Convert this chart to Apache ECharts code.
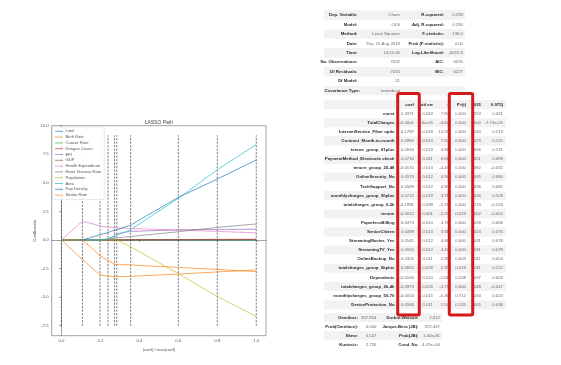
<!DOCTYPE html>
<html><head><meta charset="utf-8">
<script src="https://cdn.jsdelivr.net/npm/echarts@6/dist/echarts.min.js"></script>
<style>html,body{margin:0;padding:0;background:#fff}#c{width:561px;height:365px}</style>
</head><body><div id="c"></div>
<script>
// ---------- LASSO path data ----------
const breakpoints = [0, 0.108, 0.198, 0.239, 0.272, 0.284, 0.355, 0.6, 0.8, 1.0];
const seriesNames = ['Limit','Birth Rate','Cancer Rate','Dengue Cases','EFI','GDP','Health Expenditure','Heart Disease Rate','Population','Area','Pop Density','Stroke Rate'];
const limitVals      = [0, 0, 0, 0, 0, 0, 0, 0, 0, 0];
const birthRate      = [0, -1.72, -3.06, -3.18, -3.22, -3.22, -3.18, -2.99, -2.80, -2.62];
const cancerRate     = [0, 0, 0, 0, 0, 0, 0, 0, 0, 0];
const dengueCases    = [0, 0, 0, 0, 0, 0, 0.01, 0.02, 0.03, 0.04];
const efi            = [0, 0, 0, 0, 0.40, 0.55, 0.75, 0.88, 0.92, 0.94];
const gdp            = [0, 0, 0, 0, 0, 0.01, 0.02, 0.04, 0.05, 0.06];
const healthExp      = [0, 1.66, 1.22, 1.12, 1.07, 1.05, 1.00, 0.87, 0.75, 0.62];
const heartDisease   = [0, 0, 0, 0.08, 0.15, 0.18, 0.30, 0.72, 1.10, 1.40];
const population     = [0, 0, 0, 0, 0, 0, -0.60, -2.95, -4.95, -6.70];
const area           = [0, 0, 0, 0.10, 0.30, 0.40, 0.90, 3.64, 6.15, 8.35];
const popDensity     = [0, 0, 0.45, 0.65, 0.85, 0.90, 1.30, 3.73, 5.33, 7.00];
const strokeRate     = [0, 0, -1.37, -1.80, -2.10, -2.15, -2.19, -2.40, -2.58, -2.77];
const seriesValues = [limitVals, birthRate, cancerRate, dengueCases, efi, gdp, healthExp, heartDisease, population, area, popDensity, strokeRate];
const seriesColors = ['#1f77b4','#ff7f0e','#2ca02c','#d62728','#9467bd','#8c564b','#e377c2','#7f7f7f','#bcbd22','#17becf','#1f77b4','#ff7f0e'];
const vlineRange = [-7.51, 9.16];
const yTicks = [-7.5, -5, -2.5, 0, 2.5, 5, 7.5, 10];
const xTicks = [0, 0.2, 0.4, 0.6, 0.8, 1.0];

// ---------- OLS summary tables ----------
const topLeftLabels  = ['Dep. Variable:','Model:','Method:','Date:','Time:','No. Observations:','Df Residuals:','Df Model:','Covariance Type:'];
const topLeftValues  = ['Churn','OLS','Least Squares','Thu, 15 Aug 2019','14:55:36','7032','7010','21','nonrobust'];
const topRightLabels = ['R-squared:','Adj. R-squared:','F-statistic:','Prob (F-statistic):','Log-Likelihood:','AIC:','BIC:','',''];
const topRightValues = ['0.293','0.290','136.0','0.00','-3015.8','6076','6227','',''];

const coefHeader = ['coef','std err','t','P>|t|','.025','0.975]'];
const coefNames = ['const','TotalCharges','InternetService_Fiber optic','Contract_Month-to-month','tenure_group_61plus','PaymentMethod_Electronic check','tenure_group_25-48','OnlineSecurity_No','TechSupport_No','monthlycharges_group_90plus','totalcharges_group_0-2k','tenure','PaperlessBilling','SeniorCitizen','StreamingMovies_Yes','StreamingTV_Yes','OnlineBackup_No','totalcharges_group_6kplus','Dependents','totalcharges_group_2k-4k','monthlycharges_group_50-70','DeviceProtection_No'];
const coefCol   = ['0.3371','-0.0001','0.1787','0.0990','0.0934','0.0716','-0.0570','0.0574','0.0589','0.0712','-0.1991','-0.0012','0.0473','0.0499','0.0545','0.0550','0.0326','0.0663','-0.0163','-0.0973','-0.0054','0.0166'];
const stdErrCol = ['0.043','1.6e-05','0.018','0.013','0.019','0.011','0.013','0.012','0.012','0.019','0.038','0.001','0.010','0.013','0.012','0.012','0.011','0.028','0.010','0.026','0.015','0.011'];
const tCol      = ['7.87','-4.64','10.09','7.50','4.86','6.69','-4.47','4.94','4.90','3.71','-5.19','-2.27','4.76','3.81','4.46','4.47','2.99','2.35','-1.61','-3.77','-0.36','1.53'];
const pCol      = ['0.000','0.000','0.000','0.000','0.000','0.000','0.000','0.000','0.000','0.000','0.000','0.023','0.000','0.000','0.000','0.000','0.003','0.019','0.108','0.000','0.712','0.126'];
const loCol     = ['.253','.000','.144','.073','.056','.051','.082','.035','.036','.034','.274','.002','.028','.024','.031','.031','.011','.011','.037','.148','.034','.005'];
const hiCol     = ['0.421','-7.73e-05','0.213','0.125','0.131','0.093','-0.032','0.080','0.082','0.109','-0.124','-0.000','0.066','0.076','0.078','0.079','0.054','0.122','0.004','-0.047','0.023','0.038'];

const diagLeftLabels  = ['Omnibus:','Prob(Omnibus):','Skew:','Kurtosis:'];
const diagLeftValues  = ['337.854','0.000','0.547','2.726'];
const diagRightLabels = ['Durbin-Watson:','Jarque-Bera (JB):','Prob(JB):','Cond. No.'];
const diagRightValues = ['2.012','372.347','1.40e-81','4.47e+04'];

// ---------- build ----------
const chart = echarts.init(document.getElementById('c'), null, {renderer:'canvas'});
const FONT = 'Liberation Sans, DejaVu Sans, sans-serif';

const series = [];
breakpoints.forEach((x, i) => {
  series.push({
    type:'line', name:'vline'+i, silent:true, symbol:'none', z:1,
    data:[[x, vlineRange[0]], [x, vlineRange[1]]],
    lineStyle:{color:'#444', width:1, type:[2.2,1.3], opacity:0.7}
  });
});
seriesNames.forEach((n, k) => {
  series.push({
    type:'line', name:n, symbol:'none', z:3,
    data: breakpoints.map((x, i) => [x, seriesValues[k][i]]),
    lineStyle:{color:seriesColors[k], width:1, opacity:0.68},
    itemStyle:{color:seriesColors[k], opacity:0.68}
  });
});

const graphics = [];
function txt(x, y, s, opt) {
  opt = opt || {};
  graphics.push({type:'text', x:x, y:y, z:50, silent:true, style:{
    text:s, fontSize:opt.size || 4.3, fontFamily:FONT, fontWeight: opt.bold ? 'bold' : 'normal',
    fill: opt.color || (opt.bold ? '#2a2a2a' : '#6a6a6a'), align: opt.align || 'right', verticalAlign:'middle'}});
}
function stripe(x1, x2, yc, h) {
  graphics.push({type:'rect', z:10, silent:true, shape:{x:x1, y:yc - h/2, width:x2 - x1, height:h}, style:{fill:'#f2f2f2'}});
}

txt(158.8, 122.2, 'LASSO Path', {size:5, color:'#444', align:'center'});

// top table
const topY0 = 15, rowH = 9.45;
topLeftLabels.forEach((l, i) => {
  const y = topY0 + i*rowH;
  if (i % 2 === 0) stripe(324, 465, y, rowH);
  txt(i === 8 ? 360 : 357.5, y, l, {bold:true});
  txt(400, y, topLeftValues[i]);
  if (topRightLabels[i]) txt(444, y, topRightLabels[i], {bold:true});
  if (topRightValues[i]) txt(463, y, topRightValues[i]);
});

// coefficient table
const colX = [414, 433, 449, 466, 481, 503];
const hdrY = 104.5, cRowH = 9.1;
stripe(324, 506, hdrY, cRowH);
coefHeader.forEach((h, j) => txt(colX[j], hdrY, h, {bold:true}));
const cols = [coefCol, stdErrCol, tCol, pCol, loCol, hiCol];
coefNames.forEach((n, i) => {
  const y = hdrY + (i+1)*cRowH;
  if ((i+1) % 2 === 0) stripe(324, 506, y, cRowH);
  txt(394.5, y, n, {bold:true});
  cols.forEach((c, j) => txt(colX[j], y, c[i]));
});

// diagnostics table
const dY0 = 317.5, dRowH = 9;
diagLeftLabels.forEach((l, i) => {
  const y = dY0 + i*dRowH;
  if (i % 2 === 0) stripe(324, 442, y, dRowH);
  txt(358, y, l, {bold:true});
  txt(376.5, y, diagLeftValues[i]);
  txt(418.5, y, diagRightLabels[i], {bold:true});
  txt(440, y, diagRightValues[i]);
});

// red highlight boxes
[[397.7, 419.3], [449.3, 472.7]].forEach(b => {
  graphics.push({type:'rect', z:80, silent:true, shape:{x:b[0], y:93.5, width:b[1]-b[0], height:221.5, r:1.5},
    style:{fill:'rgba(0,0,0,0)', stroke:'#d41a1a', lineWidth:3}});
});

const option = {
  backgroundColor:'#fff',
  animation:false,
  grid:{left:51.7, right:295, top:125.7, bottom:29.3, show:true, borderColor:'#8a8a8a', borderWidth:0.8, backgroundColor:'rgba(0,0,0,0)'},
  legend:{
    data: seriesNames, orient:'vertical', left:52.5, top:126.8,
    itemWidth:8, itemHeight:1, itemGap:0, icon:'rect',
    padding:[1.6,3,1.6,2.5], backgroundColor:'rgba(255,255,255,0.92)', borderColor:'#dcdcdc', borderWidth:0.7, borderRadius:1.5,
    textStyle:{fontSize:4.1, lineHeight:5.8, color:'#555', fontFamily:FONT, padding:[0,0,0,-2.5]},
    selectedMode:false, z:20
  },
  xAxis:{
    type:'value', min:-0.05, max:1.05,
    name:'|coef| / max|coef|', nameLocation:'middle', nameGap:9,
    nameTextStyle:{fontSize:4.3, color:'#555', fontFamily:FONT},
    axisLine:{show:true, lineStyle:{color:'#8a8a8a', width:0.8}},
    axisTick:{show:true, length:2, customValues:xTicks, lineStyle:{color:'#8a8a8a'}},
    axisLabel:{customValues:xTicks, fontSize:4.3, color:'#555', margin:3, fontFamily:FONT, formatter:v => v.toFixed(1)},
    splitLine:{show:false}
  },
  yAxis:{
    type:'value', min:-8.38, max:10.0,
    name:'Coefficients', nameLocation:'middle', nameGap:15, nameRotate:90,
    nameTextStyle:{fontSize:4.3, color:'#555', fontFamily:FONT},
    axisLine:{show:true, lineStyle:{color:'#8a8a8a', width:0.8}},
    axisTick:{show:true, length:2, customValues:yTicks, lineStyle:{color:'#8a8a8a'}},
    axisLabel:{customValues:yTicks, fontSize:4.3, color:'#555', margin:3, fontFamily:FONT, formatter:v => v.toFixed(1)},
    splitLine:{show:false}
  },
  series: series,
  graphic: graphics
};
chart.setOption(option);
</script>
</body></html>
